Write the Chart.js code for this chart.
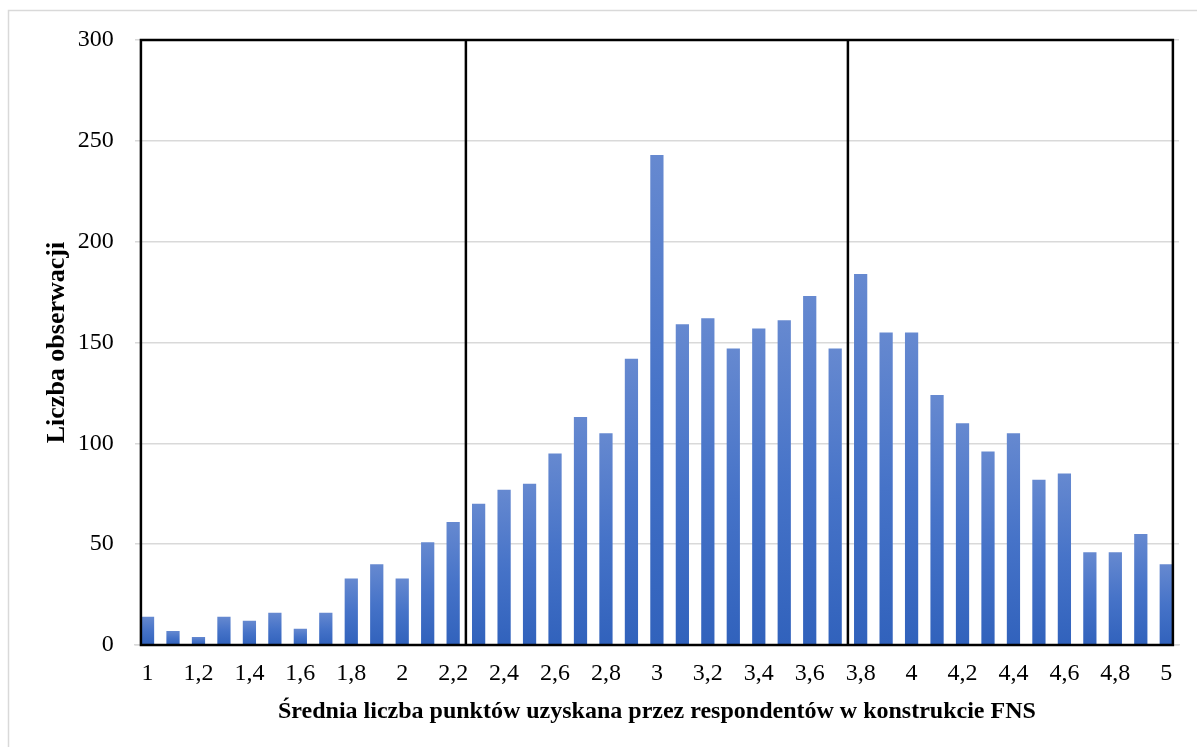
<!DOCTYPE html>
<html>
<head>
<meta charset="utf-8">
<script src="https://cdn.jsdelivr.net/npm/chart.js@4"></script>
<style>
  html, body { margin: 0; padding: 0; background: #fff; }
  #wrap { width: 1197px; height: 747px; }
</style>
</head>
<body>
<div id="wrap"><canvas id="fnsChart"></canvas></div>
<script>
// FNS score histogram
const categories = ["1", "1,1", "1,2", "1,3", "1,4", "1,5", "1,6", "1,7", "1,8", "1,9",
  "2", "2,1", "2,2", "2,3", "2,4", "2,5", "2,6", "2,7", "2,8", "2,9",
  "3", "3,1", "3,2", "3,3", "3,4", "3,5", "3,6", "3,7", "3,8", "3,9",
  "4", "4,1", "4,2", "4,3", "4,4", "4,5", "4,6", "4,7", "4,8", "4,9", "5"]
const counts = [14, 7, 4, 14, 12, 16, 8, 16, 33, 40,
  33, 51, 61, 70, 77, 80, 95, 113, 105, 142,
  243, 159, 162, 147, 157, 161, 173, 147, 184, 155,
  155, 124, 110, 96, 105, 82, 85, 46, 46, 55, 40]
const yTicks = [0, 50, 100, 150, 200, 250, 300]
// groups start at these categories (after the first one)
const groupStarts = ["2,3", "3,8"]

const FONT = "'Liberation Serif', 'Times New Roman', serif"

const barGradient = (ctx) => {
  const chart = ctx.chart
  const y = chart.scales.y
  if (!y || ctx.type !== "data") return "#4472c4"
  const top = y.getPixelForValue(ctx.raw)
  const base = y.getPixelForValue(0)
  if (!isFinite(top) || !isFinite(base) || top === base) return "#4472c4"
  const g = chart.ctx.createLinearGradient(0, top, 0, base)
  g.addColorStop(0, "#6689d0")
  g.addColorStop(0.5, "#4673c8")
  g.addColorStop(1, "#3162bc")
  return g
}

const framePlugin = {
  id: "frame",
  beforeDraw(chart) {
    const c = chart.ctx
    c.save()
    c.strokeStyle = "#d9d9d9"
    c.lineWidth = 1.5
    c.beginPath()
    c.moveTo(8.5, chart.height)
    c.lineTo(8.5, 10.5)
    c.lineTo(chart.width, 10.5)
    c.stroke()
    c.restore()
  },
  afterDatasetsDraw(chart) {
    const meta = chart.getDatasetMeta(0)
    const bars = meta.data
    if (!bars.length) return
    const y = chart.scales.y
    const top = y.getPixelForValue(300)
    const bottom = y.getPixelForValue(0)
    const first = bars[0], last = bars[bars.length - 1]
    const left = first.x - first.width / 2
    const right = last.x + last.width / 2
    const c = chart.ctx
    c.save()
    c.strokeStyle = "#000"
    c.lineWidth = 2.5
    c.strokeRect(left, top, right - left, bottom - top)
    groupStarts.forEach((lab) => {
      const i = categories.indexOf(lab)
      const x = (bars[i - 1].x + bars[i].x) / 2
      c.beginPath()
      c.moveTo(x, top)
      c.lineTo(x, bottom)
      c.stroke()
    })
    c.restore()
  },
}

new Chart(document.getElementById("fnsChart"), {
  type: "bar",
  data: {
    labels: categories,
    datasets: [{
      data: counts,
      backgroundColor: barGradient,
      borderWidth: 0,
      categoryPercentage: 1,
      barPercentage: 0.52,
    }],
  },
  options: {
    responsive: true,
    maintainAspectRatio: false,
    animation: false,
    layout: { padding: { left: 8, top: 40, right: 18, bottom: 10 } },
    plugins: {
      legend: { display: false },
      tooltip: { enabled: false },
    },
    scales: {
      x: {
        grid: { display: false },
        border: { color: "#d9d9d9", width: 1.5 },
        ticks: {
          autoSkip: false,
          maxRotation: 0,
          padding: 6,
          color: "#000",
          font: { family: FONT, size: 24 },
          callback: (v, i) => (i % 2 === 0 ? categories[i] : ""),
        },
        title: {
          display: true,
          text: "Średnia liczba punktów uzyskana przez respondentów w konstrukcie FNS",
          color: "#000",
          font: { family: FONT, size: 24, weight: "bold" },
          padding: { top: 4, bottom: 11 },
        },
        afterFit(scale) { scale.height = 747 - 645 - 10 },
      },
      y: {
        min: 0,
        max: 300,
        afterBuildTicks(scale) { scale.ticks = yTicks.map((v) => ({ value: v })) },
        grid: { color: "#d9d9d9", lineWidth: 1.5, drawTicks: false },
        border: { display: false },
        ticks: {
          padding: 21,
          color: "#000",
          font: { family: FONT, size: 24 },
        },
        title: {
          display: true,
          text: "Liczba obserwacji",
          color: "#000",
          font: { family: FONT, size: 26, weight: "bold" },
          padding: { top: 34, bottom: 0 },
        },
        afterFit(scale) { scale.width = 134.8 - 8 },
      },
    },
  },
  plugins: [framePlugin],
})
</script>
</body>
</html>
